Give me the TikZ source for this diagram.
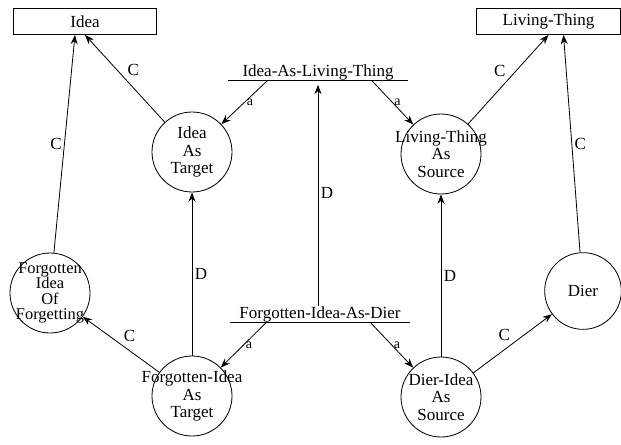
\documentclass[tikz,border=0pt]{standalone}
\usepackage{fontspec}
\setmainfont{Liberation Serif}
\usetikzlibrary{arrows.meta}

\begin{document}
\begin{tikzpicture}[x=0.03cm,y=-0.03cm, line width=0.7pt]
    \tikzstyle{every node}=[font=\fontsize{14.5}{15}\selectfont]
    \tikzstyle{concept}=[draw, minimum width=4.3cm, minimum height=0.78cm, inner sep=0pt]
    \tikzstyle{space}=[draw, circle, minimum size=2.4cm, inner sep=0pt]
    \tikzstyle{inside}=[align=center, inner sep=0pt]
    \tikzstyle{blend}=[minimum width=5.4cm, inner xsep=0pt, inner ysep=0pt, anchor=base]
    \tikzstyle{link}=[-{Stealth[length=8pt,width=6pt]}]
    \tikzstyle{tag}=[inner sep=2pt]
    \tikzstyle{small tag}=[inner sep=1.5pt, font=\fontsize{12}{13}\selectfont]

    \useasboundingbox (0,0) rectangle (621,444);

    \node[concept] (idea) at (85,21.5) {Idea};
    \node[concept] (lt) at (548.5,21.5) {Living-Thing};

    \node[space, label={[inside]center:{Idea\\As\\Target}}] (iat) at (192,152) {};
    \node[space, label={[inside]center:{Living-Thing\\As\\Source}}] (lts) at (441,154) {};
    \node[space, label={[inside, font=\fontsize{14}{13}\selectfont]center:{Forgotten\\Idea\\Of\\Forgetting}}] (fiof) at (50,293) {};
    \node[space, label={[inside]center:{Forgotten-Idea\\As\\Target}}] (fit) at (192,396) {};
    \node[space, label={[inside]center:{Dier-Idea\\As\\Source}}] (dis) at (441,397) {};
    \node[space, minimum size=2.3cm, label={[inside]center:Dier}] (dier) at (583,291) {};

    \node[blend] (ial) at (318,76) {Idea-As-Living-Thing};
    \node[blend] (fiad) at (320,318) {Forgotten-Idea-As-Dier};
    \draw (ial.south west) -- (ial.south east);
    \draw (fiad.south west) -- (fiad.south east);

    \draw[link] (iat) -- (idea.south) node[midway, above right, tag] {C};
    \draw[link] (fiof) -- ([xshift=-0.3cm]idea.south) node[midway, left, tag] {C};
    \draw[link] (fit) -- (fiof) node[midway, above right, tag] {C};
    \draw[link] (fit) -- (iat) node[midway, right, tag] {D};
    \draw[link] ([xshift=-1.5cm]ial.south) -- (iat) node[midway, right, small tag] {a};
    \draw[link] ([xshift=1.6cm]ial.south) -- (lts) node[midway, right, small tag] {a};
    \draw[link] ([xshift=-1.6cm]fiad.south) -- (fit) node[midway, right, small tag] {a};
    \draw[link] ([xshift=1.5cm]fiad.south) -- (dis) node[midway, right, small tag] {a};
    \draw[link, shorten >=4pt] (fiad.north -| ial.south) -- (ial.south) node[midway, right, tag] {D};
    \draw[link] (lts) -- (lt.south) node[midway, above left, tag] {C};
    \draw[link] (dier) -- ([xshift=0.45cm]lt.south) node[midway, right, tag] {C};
    \draw[link] (dis) -- (lts) node[midway, right, tag] {D};
    \draw[link] (dis) -- (dier) node[midway, above left, tag] {C};
\end{tikzpicture}
\end{document}
